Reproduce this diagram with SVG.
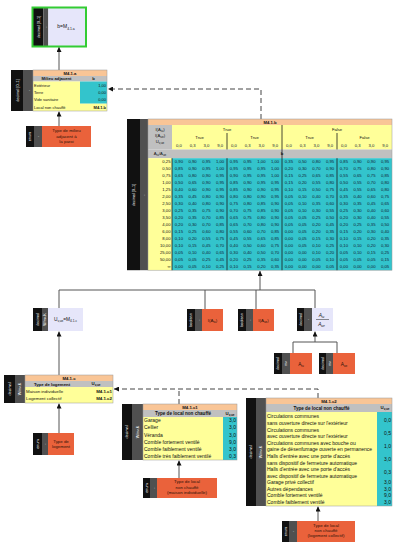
<svg xmlns="http://www.w3.org/2000/svg" width="400" height="549" viewBox="0 0 400 549">
<style>
text{font-family:"Liberation Sans",Arial,sans-serif;fill:#111}
.blk{fill:#111}.gry{fill:#505050}.pch{fill:#f9c596}.hdr{fill:#c0c0c0}.yel{fill:#ffff99}.cya{fill:#33c4cc}.org{fill:#ea623b}.lav{fill:#e6e6fa}
.vl{fill:#fff;font-size:3.8px;text-anchor:middle}
.tb{font-size:4.6px}.b{font-weight:bold}.m{text-anchor:middle}.e{text-anchor:end}
.on{font-size:4.4px;text-anchor:middle;fill:#2a1208}
.d{font-size:4.2px;text-anchor:middle;fill:#123}
.c{stroke:#555;stroke-width:1;fill:none}
.ds{stroke:#444;stroke-width:1;fill:none;stroke-dasharray:5,3}
.sep{stroke:#1a1a1a;stroke-width:0.8}
.ol{fill:none;stroke:#999;stroke-width:0.5}
</style>
<defs>
<marker id="ah" markerWidth="5" markerHeight="5" refX="5" refY="2.5" orient="auto" markerUnits="userSpaceOnUse"><path d="M0,0 L5,2.5 L0,5 z" fill="#111"/></marker>
</defs>

<g id="connectors">
<line class="c" x1="59" y1="70" x2="59" y2="47" marker-end="url(#ah)"/>
<line class="c" x1="59" y1="126" x2="59" y2="111.5" marker-end="url(#ah)"/>
<path class="ds" d="M261,119 V89 H108" marker-end="url(#ah)"/>
<path class="c" d="M59,308 V290 H315 V308"/>
<line class="c" x1="205" y1="290" x2="205" y2="309"/>
<line class="c" x1="256" y1="290" x2="256" y2="309"/>
<line class="c" x1="260" y1="290" x2="260" y2="271" marker-end="url(#ah)"/>
<path class="c" d="M293,353 V342 H337 V353"/>
<line class="c" x1="315" y1="342" x2="315" y2="331.5" marker-end="url(#ah)"/>
<line class="c" x1="59" y1="375" x2="59" y2="331.5" marker-end="url(#ah)"/>
<line class="c" x1="59" y1="433" x2="59" y2="403.5" marker-end="url(#ah)"/>
<path class="ds" d="M318,398 V389 H114" marker-end="url(#ah)"/>
<path class="ds" d="M179,404 V389"/>
<line class="c" x1="179" y1="478" x2="179" y2="460.5" marker-end="url(#ah)"/>
<line class="c" x1="318" y1="521" x2="318" y2="506.5" marker-end="url(#ah)"/>
</g>

<g id="node-b">
<rect class="blk" x="33" y="8" width="10.3" height="38"/>
<rect class="gry" x="43.3" y="8" width="5" height="38"/>
<rect class="lav" x="48.3" y="8" width="37" height="38"/>
<rect x="32.5" y="7.5" width="53.5" height="39" fill="none" stroke="#3c3" stroke-width="2"/>
<text class="vl" transform="translate(39.5,27) rotate(-90)">decimal [0..1]</text>
<text class="vl" transform="translate(47,27) rotate(-90)">-</text>
<text x="66" y="28" style="font-size:5px" class="m">b=M<tspan style="font-size:3.4px" dy="1.5">4.1.a</tspan></text>
</g>

<g id="table-M4.1.a">
<rect class="blk" x="11" y="70" width="12" height="41"/>
<rect class="gry" x="23" y="70" width="10" height="41"/>
<text class="vl" transform="translate(18.5,90.5) rotate(-90)">decimal [0..1]</text>
<text class="vl" transform="translate(29.5,90.5) rotate(-90)">-</text>
<rect class="pch" x="33" y="70" width="74" height="6"/>
<rect class="hdr" x="33" y="76" width="74" height="5.5"/>
<rect class="yel" x="33" y="81.5" width="47" height="29.5"/>
<rect class="cya" x="80" y="81.5" width="27" height="22.2"/>
<rect class="yel" x="80" y="103.7" width="27" height="7.3"/>
<rect class="ol" x="33" y="70" width="74" height="41"/>
<text class="tb b m" x="70" y="74.7" style="font-size:4.2px">M4.1.a</text>
<text class="b m" x="56.5" y="80.3" style="font-size:4.2px">Milieu adjacent</text>
<text class="b m" x="93.5" y="80.3" style="font-size:4.2px">b</text>
<g style="font-size:4px">
<text x="34" y="86.6">Extérieur</text><text class="e" x="106" y="86.6">1,00</text>
<text x="34" y="94">Terre</text><text class="e" x="106" y="94">0,00</text>
<text x="34" y="101.4">Vide sanitaire</text><text class="e" x="106" y="101.4">0,00</text>
<text x="34" y="108.8">Local non chauffé</text><text class="e b" x="106" y="108.8">M4.1.b</text>
</g>
</g>

<g id="node-type-milieu">
<rect class="blk" x="26" y="126" width="8" height="21"/>
<rect class="gry" x="34" y="126" width="8" height="21"/>
<rect class="org" x="42" y="126" width="49" height="21"/>
<text class="vl" transform="translate(31.3,136.5) rotate(-90)">enum</text>
<text class="vl" transform="translate(39.3,136.5) rotate(-90)">-</text>
<text class="on" x="66.5" y="132.3">Type de milieu</text>
<text class="on" x="66.5" y="137.5">adjacent à</text>
<text class="on" x="66.5" y="142.7">la paroi</text>
</g>

<g id="table-M4.1.b">
<rect class="blk" x="127" y="119" width="13" height="151.2"/>
<rect class="gry" x="140" y="119" width="8" height="151.2"/>
<text class="vl" transform="translate(135,195) rotate(-90)">decimal [0..1]</text>
<text class="vl" transform="translate(145.3,195) rotate(-90)">-</text>
<rect class="pch" x="148" y="119" width="244" height="6"/>
<rect class="hdr" x="148" y="125" width="24" height="24.5"/>
<rect class="yel" x="172" y="125" width="220" height="24.5"/>
<rect class="hdr" x="148" y="149.5" width="244" height="8.7"/>
<rect class="yel" x="148" y="158.2" width="24" height="112"/>
<rect class="cya" x="172" y="158.2" width="220" height="112"/>
<rect class="ol" x="148" y="119" width="244" height="151.2"/>
<line class="sep" x1="282" y1="125" x2="282" y2="270.2"/>
<line class="sep" x1="227" y1="133" x2="227" y2="149.5"/>
<line class="sep" x1="337" y1="133" x2="337" y2="149.5"/>
<line class="sep" x1="227" y1="158.2" x2="227" y2="270.2"/>
<line class="sep" x1="337" y1="158.2" x2="337" y2="270.2"/>
<line class="sep" x1="172" y1="158.2" x2="172" y2="270.2"/>
<text class="b m" x="270" y="123.7" style="font-size:4.2px">M4.1.b</text>
<g style="font-size:4.2px">
<text class="m" x="160" y="131">I(A<tspan style="font-size:3px" dy="1">iu</tspan><tspan dy="-1">)</tspan></text>
<text class="m" x="160" y="137">I(A<tspan style="font-size:3px" dy="1">ue</tspan><tspan dy="-1">)</tspan></text>
<text class="m" x="160" y="143">U<tspan style="font-size:3px" dy="1">v,ue</tspan></text>
<text class="m" x="160" y="155.3">A<tspan style="font-size:3px" dy="1">iu</tspan><tspan dy="-1">/A</tspan><tspan style="font-size:3px" dy="1">ue</tspan></text>
<text class="m" x="227" y="131">True</text>
<text class="m" x="337" y="131">False</text>
<text class="m" x="199.5" y="139">True</text>
<text class="m" x="254.5" y="139">True</text>
<text class="m" x="309.5" y="139">True</text>
<text class="m" x="364.5" y="139">False</text>
<text class="b m" x="282" y="155.3">b</text>
</g>
<text class="d" y="146.5"><tspan x="178.9">0,0</tspan><tspan x="192.6">0,3</tspan><tspan x="206.4">3,0</tspan><tspan x="220.1">9,0</tspan><tspan x="233.9">0,0</tspan><tspan x="247.6">0,3</tspan><tspan x="261.4">3,0</tspan><tspan x="275.1">9,0</tspan><tspan x="288.9">0,0</tspan><tspan x="302.6">0,3</tspan><tspan x="316.4">3,0</tspan><tspan x="330.1">9,0</tspan><tspan x="343.9">0,0</tspan><tspan x="357.6">0,3</tspan><tspan x="371.4">3,0</tspan><tspan x="385.1">9,0</tspan></text>
<g style="font-size:4.2px" class="e">
<text x="170.5" y="163.2">0,25</text><text x="170.5" y="170.2">0,50</text><text x="170.5" y="177.2">0,75</text><text x="170.5" y="184.2">1,00</text>
<text x="170.5" y="191.2">1,25</text><text x="170.5" y="198.2">2,00</text><text x="170.5" y="205.2">2,50</text><text x="170.5" y="212.2">3,00</text>
<text x="170.5" y="219.2">3,50</text><text x="170.5" y="226.2">4,00</text><text x="170.5" y="233.2">6,00</text><text x="170.5" y="240.2">8,00</text>
<text x="170.5" y="247.2">10,00</text><text x="170.5" y="254.2">25,00</text><text x="170.5" y="261.2">50,00</text><text x="170.5" y="268.2">∞</text>
</g>
<text class="d" y="163.2"><tspan x="178.9">0,90</tspan><tspan x="192.6">0,90</tspan><tspan x="206.4">0,95</tspan><tspan x="220.1">1,00</tspan><tspan x="233.9">0,95</tspan><tspan x="247.6">0,95</tspan><tspan x="261.4">1,00</tspan><tspan x="275.1">1,00</tspan><tspan x="288.9">0,35</tspan><tspan x="302.6">0,50</tspan><tspan x="316.4">0,80</tspan><tspan x="330.1">0,95</tspan><tspan x="343.9">0,85</tspan><tspan x="357.6">0,90</tspan><tspan x="371.4">0,90</tspan><tspan x="385.1">0,95</tspan></text>
<text class="d" y="170.2"><tspan x="178.9">0,85</tspan><tspan x="192.6">0,90</tspan><tspan x="206.4">0,95</tspan><tspan x="220.1">1,00</tspan><tspan x="233.9">0,95</tspan><tspan x="247.6">0,95</tspan><tspan x="261.4">0,95</tspan><tspan x="275.1">1,00</tspan><tspan x="288.9">0,20</tspan><tspan x="302.6">0,30</tspan><tspan x="316.4">0,70</tspan><tspan x="330.1">0,90</tspan><tspan x="343.9">0,70</tspan><tspan x="357.6">0,75</tspan><tspan x="371.4">0,80</tspan><tspan x="385.1">0,90</tspan></text>
<text class="d" y="177.2"><tspan x="178.9">0,65</tspan><tspan x="192.6">0,80</tspan><tspan x="206.4">0,90</tspan><tspan x="220.1">0,95</tspan><tspan x="233.9">0,90</tspan><tspan x="247.6">0,95</tspan><tspan x="261.4">0,95</tspan><tspan x="275.1">1,00</tspan><tspan x="288.9">0,15</tspan><tspan x="302.6">0,25</tspan><tspan x="316.4">0,65</tspan><tspan x="330.1">0,85</tspan><tspan x="343.9">0,55</tspan><tspan x="357.6">0,65</tspan><tspan x="371.4">0,75</tspan><tspan x="385.1">0,85</tspan></text>
<text class="d" y="184.2"><tspan x="178.9">0,50</tspan><tspan x="192.6">0,65</tspan><tspan x="206.4">0,90</tspan><tspan x="220.1">0,95</tspan><tspan x="233.9">0,85</tspan><tspan x="247.6">0,90</tspan><tspan x="261.4">0,95</tspan><tspan x="275.1">0,95</tspan><tspan x="288.9">0,15</tspan><tspan x="302.6">0,20</tspan><tspan x="316.4">0,55</tspan><tspan x="330.1">0,80</tspan><tspan x="343.9">0,50</tspan><tspan x="357.6">0,55</tspan><tspan x="371.4">0,70</tspan><tspan x="385.1">0,80</tspan></text>
<text class="d" y="191.2"><tspan x="178.9">0,40</tspan><tspan x="192.6">0,60</tspan><tspan x="206.4">0,90</tspan><tspan x="220.1">0,95</tspan><tspan x="233.9">0,85</tspan><tspan x="247.6">0,90</tspan><tspan x="261.4">0,90</tspan><tspan x="275.1">0,95</tspan><tspan x="288.9">0,10</tspan><tspan x="302.6">0,15</tspan><tspan x="316.4">0,50</tspan><tspan x="330.1">0,75</tspan><tspan x="343.9">0,45</tspan><tspan x="357.6">0,55</tspan><tspan x="371.4">0,65</tspan><tspan x="385.1">0,80</tspan></text>
<text class="d" y="198.2"><tspan x="178.9">0,35</tspan><tspan x="192.6">0,45</tspan><tspan x="206.4">0,80</tspan><tspan x="220.1">0,90</tspan><tspan x="233.9">0,80</tspan><tspan x="247.6">0,80</tspan><tspan x="261.4">0,90</tspan><tspan x="275.1">0,95</tspan><tspan x="288.9">0,05</tspan><tspan x="302.6">0,10</tspan><tspan x="316.4">0,40</tspan><tspan x="330.1">0,70</tspan><tspan x="343.9">0,35</tspan><tspan x="357.6">0,40</tspan><tspan x="371.4">0,60</tspan><tspan x="385.1">0,75</tspan></text>
<text class="d" y="205.2"><tspan x="178.9">0,30</tspan><tspan x="192.6">0,40</tspan><tspan x="206.4">0,80</tspan><tspan x="220.1">0,90</tspan><tspan x="233.9">0,75</tspan><tspan x="247.6">0,80</tspan><tspan x="261.4">0,85</tspan><tspan x="275.1">0,90</tspan><tspan x="288.9">0,05</tspan><tspan x="302.6">0,10</tspan><tspan x="316.4">0,35</tspan><tspan x="330.1">0,60</tspan><tspan x="343.9">0,30</tspan><tspan x="357.6">0,35</tspan><tspan x="371.4">0,45</tspan><tspan x="385.1">0,65</tspan></text>
<text class="d" y="212.2"><tspan x="178.9">0,25</tspan><tspan x="192.6">0,35</tspan><tspan x="206.4">0,75</tspan><tspan x="220.1">0,90</tspan><tspan x="233.9">0,70</tspan><tspan x="247.6">0,75</tspan><tspan x="261.4">0,85</tspan><tspan x="275.1">0,90</tspan><tspan x="288.9">0,05</tspan><tspan x="302.6">0,10</tspan><tspan x="316.4">0,30</tspan><tspan x="330.1">0,55</tspan><tspan x="343.9">0,25</tspan><tspan x="357.6">0,30</tspan><tspan x="371.4">0,40</tspan><tspan x="385.1">0,60</tspan></text>
<text class="d" y="219.2"><tspan x="178.9">0,20</tspan><tspan x="192.6">0,35</tspan><tspan x="206.4">0,70</tspan><tspan x="220.1">0,85</tspan><tspan x="233.9">0,65</tspan><tspan x="247.6">0,75</tspan><tspan x="261.4">0,80</tspan><tspan x="275.1">0,90</tspan><tspan x="288.9">0,05</tspan><tspan x="302.6">0,05</tspan><tspan x="316.4">0,25</tspan><tspan x="330.1">0,50</tspan><tspan x="343.9">0,20</tspan><tspan x="357.6">0,30</tspan><tspan x="371.4">0,40</tspan><tspan x="385.1">0,55</tspan></text>
<text class="d" y="226.2"><tspan x="178.9">0,20</tspan><tspan x="192.6">0,30</tspan><tspan x="206.4">0,70</tspan><tspan x="220.1">0,85</tspan><tspan x="233.9">0,65</tspan><tspan x="247.6">0,70</tspan><tspan x="261.4">0,80</tspan><tspan x="275.1">0,90</tspan><tspan x="288.9">0,05</tspan><tspan x="302.6">0,05</tspan><tspan x="316.4">0,20</tspan><tspan x="330.1">0,45</tspan><tspan x="343.9">0,20</tspan><tspan x="357.6">0,25</tspan><tspan x="371.4">0,35</tspan><tspan x="385.1">0,50</tspan></text>
<text class="d" y="233.2"><tspan x="178.9">0,15</tspan><tspan x="192.6">0,25</tspan><tspan x="206.4">0,60</tspan><tspan x="220.1">0,80</tspan><tspan x="233.9">0,55</tspan><tspan x="247.6">0,60</tspan><tspan x="261.4">0,70</tspan><tspan x="275.1">0,85</tspan><tspan x="288.9">0,00</tspan><tspan x="302.6">0,05</tspan><tspan x="316.4">0,20</tspan><tspan x="330.1">0,35</tspan><tspan x="343.9">0,15</tspan><tspan x="357.6">0,20</tspan><tspan x="371.4">0,30</tspan><tspan x="385.1">0,40</tspan></text>
<text class="d" y="240.2"><tspan x="178.9">0,10</tspan><tspan x="192.6">0,20</tspan><tspan x="206.4">0,55</tspan><tspan x="220.1">0,75</tspan><tspan x="233.9">0,45</tspan><tspan x="247.6">0,55</tspan><tspan x="261.4">0,65</tspan><tspan x="275.1">0,85</tspan><tspan x="288.9">0,00</tspan><tspan x="302.6">0,05</tspan><tspan x="316.4">0,15</tspan><tspan x="330.1">0,30</tspan><tspan x="343.9">0,10</tspan><tspan x="357.6">0,15</tspan><tspan x="371.4">0,20</tspan><tspan x="385.1">0,35</tspan></text>
<text class="d" y="247.2"><tspan x="178.9">0,10</tspan><tspan x="192.6">0,15</tspan><tspan x="206.4">0,45</tspan><tspan x="220.1">0,70</tspan><tspan x="233.9">0,40</tspan><tspan x="247.6">0,50</tspan><tspan x="261.4">0,60</tspan><tspan x="275.1">0,75</tspan><tspan x="288.9">0,00</tspan><tspan x="302.6">0,05</tspan><tspan x="316.4">0,10</tspan><tspan x="330.1">0,25</tspan><tspan x="343.9">0,10</tspan><tspan x="357.6">0,10</tspan><tspan x="371.4">0,20</tspan><tspan x="385.1">0,30</tspan></text>
<text class="d" y="254.2"><tspan x="178.9">0,05</tspan><tspan x="192.6">0,10</tspan><tspan x="206.4">0,40</tspan><tspan x="220.1">0,65</tspan><tspan x="233.9">0,30</tspan><tspan x="247.6">0,40</tspan><tspan x="261.4">0,50</tspan><tspan x="275.1">0,70</tspan><tspan x="288.9">0,00</tspan><tspan x="302.6">0,00</tspan><tspan x="316.4">0,10</tspan><tspan x="330.1">0,20</tspan><tspan x="343.9">0,05</tspan><tspan x="357.6">0,10</tspan><tspan x="371.4">0,15</tspan><tspan x="385.1">0,25</tspan></text>
<text class="d" y="261.2"><tspan x="178.9">0,05</tspan><tspan x="192.6">0,05</tspan><tspan x="206.4">0,25</tspan><tspan x="220.1">0,45</tspan><tspan x="233.9">0,20</tspan><tspan x="247.6">0,25</tspan><tspan x="261.4">0,35</tspan><tspan x="275.1">0,60</tspan><tspan x="288.9">0,00</tspan><tspan x="302.6">0,00</tspan><tspan x="316.4">0,05</tspan><tspan x="330.1">0,10</tspan><tspan x="343.9">0,05</tspan><tspan x="357.6">0,05</tspan><tspan x="371.4">0,05</tspan><tspan x="385.1">0,15</tspan></text>
<text class="d" y="268.2"><tspan x="178.9">0,00</tspan><tspan x="192.6">0,05</tspan><tspan x="206.4">0,10</tspan><tspan x="220.1">0,25</tspan><tspan x="233.9">0,10</tspan><tspan x="247.6">0,15</tspan><tspan x="261.4">0,20</tspan><tspan x="275.1">0,35</tspan><tspan x="288.9">0,00</tspan><tspan x="302.6">0,00</tspan><tspan x="316.4">0,00</tspan><tspan x="330.1">0,05</tspan><tspan x="343.9">0,00</tspan><tspan x="357.6">0,00</tspan><tspan x="371.4">0,00</tspan><tspan x="385.1">0,05</tspan></text>
</g>

<g id="node-Uvue">
<rect class="blk" x="33" y="308" width="9" height="23"/>
<rect class="gry" x="42" y="308" width="6" height="23"/>
<rect class="lav" x="48" y="308" width="35" height="23"/>
<text class="vl" transform="translate(38.8,319.5) rotate(-90)">decimal</text>
<text class="vl" transform="translate(46.3,319.5) rotate(-90)">W/m².K</text>
<text x="65.5" y="321" class="m" style="font-size:4.8px">U<tspan style="font-size:3.2px" dy="1.4">v,ue</tspan><tspan dy="-1.4">=M</tspan><tspan style="font-size:3.2px" dy="1.4">4.1.c</tspan></text>
</g>

<g id="node-IAiu">
<rect class="blk" x="187" y="309" width="8" height="22"/>
<rect class="gry" x="195" y="309" width="7" height="22"/>
<rect class="org" x="202" y="309" width="21" height="22"/>
<text class="vl" transform="translate(192.3,320) rotate(-90)">boolean</text>
<text class="vl" transform="translate(199.8,320) rotate(-90)">-</text>
<text class="on" x="212.5" y="321.5">I(A<tspan style="font-size:3px" dy="1.2">iu</tspan><tspan dy="-1.2">)</tspan></text>
</g>

<g id="node-IAue">
<rect class="blk" x="238" y="309" width="8" height="22"/>
<rect class="gry" x="246" y="309" width="7" height="22"/>
<rect class="org" x="253" y="309" width="21" height="22"/>
<text class="vl" transform="translate(243.3,320) rotate(-90)">boolean</text>
<text class="vl" transform="translate(250.8,320) rotate(-90)">-</text>
<text class="on" x="263.5" y="321.5">I(A<tspan style="font-size:3px" dy="1.2">ue</tspan><tspan dy="-1.2">)</tspan></text>
</g>

<g id="node-ratio">
<rect class="blk" x="297" y="308" width="7" height="23"/>
<rect class="gry" x="304" y="308" width="8" height="23"/>
<rect class="lav" x="312" y="308" width="21" height="23"/>
<text class="vl" transform="translate(301.8,319.5) rotate(-90)">decimal</text>
<text class="vl" transform="translate(309.3,319.5) rotate(-90)">-</text>
<text class="m" x="321.5" y="317" style="font-size:4.8px;font-style:italic">A<tspan style="font-size:3.2px" dy="1.2">iu</tspan></text>
<line x1="316" y1="319.5" x2="329" y2="319.5" stroke="#222" stroke-width="0.5"/>
<text class="m" x="321.5" y="325.5" style="font-size:4.8px;font-style:italic">A<tspan style="font-size:3.2px" dy="1.2">ue</tspan></text>
</g>

<g id="node-Aiu">
<rect class="blk" x="274" y="353" width="8" height="21"/>
<rect class="gry" x="282" y="353" width="8" height="21"/>
<rect class="org" x="290" y="353" width="22" height="21"/>
<text class="vl" transform="translate(279.3,363.5) rotate(-90)">decimal</text>
<text class="vl" transform="translate(287.3,363.5) rotate(-90)">m²</text>
<text class="on" x="301" y="365.5" style="font-size:4.8px">A<tspan style="font-size:3.2px" dy="1.2">iu</tspan></text>
</g>

<g id="node-Aue">
<rect class="blk" x="319" y="353" width="7" height="21"/>
<rect class="gry" x="326" y="353" width="7" height="21"/>
<rect class="org" x="333" y="353" width="22" height="21"/>
<text class="vl" transform="translate(323.8,363.5) rotate(-90)">decimal</text>
<text class="vl" transform="translate(330.8,363.5) rotate(-90)">m²</text>
<text class="on" x="344" y="365.5" style="font-size:4.8px">A<tspan style="font-size:3.2px" dy="1.2">ue</tspan></text>
</g>

<g id="table-M4.1.c">
<rect class="blk" x="4" y="375" width="11" height="28"/>
<rect class="gry" x="15" y="375" width="10" height="28"/>
<text class="vl" transform="translate(10.8,389) rotate(-90)">decimal</text>
<text class="vl" transform="translate(21.3,389) rotate(-90)">W/m².K</text>
<rect class="pch" x="25" y="375" width="88" height="6"/>
<rect class="hdr" x="25" y="381" width="88" height="6"/>
<rect class="yel" x="25" y="387" width="88" height="16"/>
<rect class="ol" x="25" y="375" width="88" height="28"/>
<text class="b m" x="69" y="379.6" style="font-size:4.3px">M4.1.c</text>
<text class="b m" x="52" y="385.6" style="font-size:4.3px">Type de logement</text>
<text class="b m" x="96" y="385.4" style="font-size:4.3px">U<tspan style="font-size:3px" dy="1">v,ue</tspan></text>
<g style="font-size:4.4px">
<text x="26" y="392.6">Maison individuelle</text><text class="b e" x="112" y="392.6">M4.1.c1</text>
<text x="26" y="400.4">Logement collectif</text><text class="b e" x="112" y="400.4">M4.1.c2</text>
</g>
</g>

<g id="node-type-logement">
<rect class="blk" x="33" y="433" width="9" height="22"/>
<rect class="gry" x="42" y="433" width="6" height="22"/>
<rect class="org" x="48" y="433" width="26" height="22"/>
<text class="vl" transform="translate(38.8,444) rotate(-90)">enum</text>
<text class="vl" transform="translate(46.3,444) rotate(-90)">-</text>
<text class="on" x="61" y="442.6">Type de</text>
<text class="on" x="61" y="447.8">logement</text>
</g>

<g id="table-M4.1.c1">
<rect class="blk" x="122" y="404" width="10" height="56"/>
<rect class="gry" x="132" y="404" width="11" height="56"/>
<text class="vl" transform="translate(128.3,432) rotate(-90)">decimal</text>
<text class="vl" transform="translate(138.8,432) rotate(-90)">W/m².K</text>
<rect class="pch" x="143" y="404" width="94" height="6"/>
<rect class="hdr" x="143" y="410" width="94" height="7"/>
<rect class="yel" x="143" y="417" width="80" height="43"/>
<rect class="cya" x="223" y="417" width="14" height="43"/>
<rect class="ol" x="143" y="404" width="94" height="56"/>
<text class="b m" x="190" y="408.6" style="font-size:4.3px">M4.1.c1</text>
<text class="b m" x="183" y="415" style="font-size:4.6px">Type de local non chauffé</text>
<text class="b m" x="230" y="414.6" style="font-size:4.3px">U<tspan style="font-size:3px" dy="1">v,ue</tspan></text>
<g style="font-size:5px">
<text x="144" y="422.3">Garage</text><text class="e" x="236" y="422.3">3,0</text>
<text x="144" y="429.4">Cellier</text><text class="e" x="236" y="429.4">3,0</text>
<text x="144" y="436.6">Véranda</text><text class="e" x="236" y="436.6">3,0</text>
<text x="144" y="443.7">Comble fortement ventilé</text><text class="e" x="236" y="443.7">9,0</text>
<text x="144" y="450.9">Comble faiblement ventilé</text><text class="e" x="236" y="450.9">3,0</text>
<text x="144" y="458">Comble très faiblement ventilé</text><text class="e" x="236" y="458">0,3</text>
</g>
</g>

<g id="node-type-local-maison">
<rect class="blk" x="143" y="478" width="7" height="20"/>
<rect class="gry" x="150" y="478" width="7" height="20"/>
<rect class="org" x="157" y="478" width="60" height="20"/>
<text class="vl" transform="translate(147.8,488) rotate(-90)">enum</text>
<text class="vl" transform="translate(154.8,488) rotate(-90)">-</text>
<text class="on" x="187" y="483.3">Type de local</text>
<text class="on" x="187" y="488.6">non chauffé</text>
<text class="on" x="187" y="493.9">(maison individuelle)</text>
</g>

<g id="table-M4.1.c2">
<rect class="blk" x="246" y="398" width="10" height="108"/>
<rect class="gry" x="256" y="398" width="10" height="108"/>
<text class="vl" transform="translate(252.3,452) rotate(-90)">decimal</text>
<text class="vl" transform="translate(262.3,452) rotate(-90)">W/m².K</text>
<rect class="pch" x="266" y="398" width="126" height="6"/>
<rect class="hdr" x="266" y="404" width="126" height="8"/>
<rect class="yel" x="266" y="412" width="111" height="94"/>
<rect class="cya" x="377" y="412" width="15" height="94"/>
<rect class="ol" x="266" y="398" width="126" height="108"/>
<text class="b m" x="329" y="402.6" style="font-size:4.3px">M4.1.c2</text>
<text class="b m" x="321.5" y="409.6" style="font-size:4.6px">Type de local non chauffé</text>
<text class="b m" x="385" y="409" style="font-size:4.3px">U<tspan style="font-size:3px" dy="1">v,ue</tspan></text>
<g style="font-size:5px">
<text x="267" y="418.4">Circulations communes</text>
<text x="267" y="425">sans ouverture directe sur l'extérieur</text>
<text x="267" y="431.6">Circulations communes</text>
<text x="267" y="438.1">avec ouverture directe sur l'extérieur</text>
<text x="267" y="444.7">Circulations communes avec bouche ou</text>
<text x="267" y="451.3">gaine de désenfumage ouverte en permanence</text>
<text x="267" y="457.9">Halls d'entrée avec une porte d'accès</text>
<text x="267" y="464.5">sans dispositif de fermeture automatique</text>
<text x="267" y="471">Halls d'entrée avec une porte d'accès</text>
<text x="267" y="477.6">avec dispositif de fermeture automatique</text>
<text x="267" y="484.2">Garage privé collectif</text>
<text x="267" y="490.8">Autres dépendances</text>
<text x="267" y="497.4">Comble fortement ventilé</text>
<text x="267" y="503.9">Comble faiblement ventilé</text>
<text class="e" x="391" y="421.6">0,0</text>
<text class="e" x="391" y="434.8">0,5</text>
<text class="e" x="391" y="448">1,0</text>
<text class="e" x="391" y="461.2">3,0</text>
<text class="e" x="391" y="474.3">0,3</text>
<text class="e" x="391" y="484.2">3,0</text>
<text class="e" x="391" y="490.8">3,0</text>
<text class="e" x="391" y="497.4">9,0</text>
<text class="e" x="391" y="503.9">3,0</text>
</g>
</g>

<g id="node-type-local-collectif">
<rect class="blk" x="282" y="521" width="7" height="21"/>
<rect class="gry" x="289" y="521" width="8" height="21"/>
<rect class="org" x="297" y="521" width="58" height="21"/>
<text class="vl" transform="translate(286.8,531.5) rotate(-90)">enum</text>
<text class="vl" transform="translate(294.3,531.5) rotate(-90)">-</text>
<text class="on" x="326" y="526.6">Type de local</text>
<text class="on" x="326" y="531.9">non chauffé</text>
<text class="on" x="326" y="537.2">(logement collectif)</text>
</g>
</svg>
